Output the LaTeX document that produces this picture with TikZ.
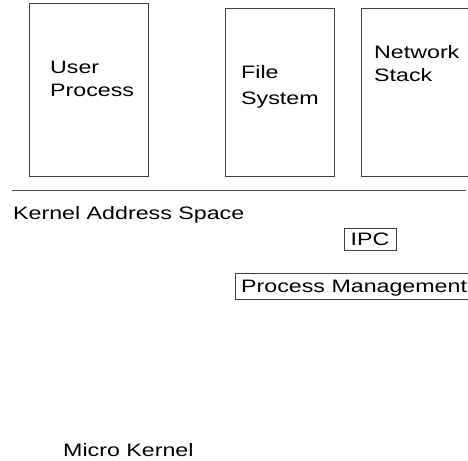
\documentclass[tikz,border=0pt]{standalone}
\usepackage{fontspec}
\setmainfont{Liberation Sans}[FakeStretch=1.29]

\begin{document}
\begin{tikzpicture}[x=1pt,y=-1pt,
  frame/.style={draw=black!75, line width=0.8pt, inner sep=0pt, outer sep=0pt},
  lbl/.style={inner sep=0pt, anchor=north west, align=left,
    font=\fontsize{18}{23}\selectfont},
  tag/.style={frame, font=\fontsize{18}{23}\selectfont},
  rule/.style={draw=black!70, line width=0.8pt}]
\useasboundingbox (0,0) rectangle (468,460);

% user-space servers
\node[frame, minimum width=119pt, minimum height=173pt] (user) at (88.5,89.5) {};
\node[frame, minimum width=109pt, minimum height=168pt] (fs) at (279.5,92) {};
\node[frame, minimum width=119pt, minimum height=168pt] (net) at (420.5,92) {};

\node[lbl] (userlbl) at (50,61) {User\\Process};
\node[lbl, font=\fontsize{18}{26}\selectfont] (fslbl) at (241,65) {File\\System};
\node[lbl] (netlbl) at (374,45) {Network\\Stack};

% user / kernel boundary
\coordinate (bl) at (12,190);
\coordinate (br) at (466,190);
\draw[rule] (bl) -- (br);

\node[lbl] (kas) at (13,206) {Kernel Address Space};

% kernel services
\node[tag, minimum width=52pt, minimum height=22pt] (ipc) at (370,239) {IPC};
\node[tag, minimum width=236pt, minimum height=26pt] (pm) at (353,286) {};
\node[lbl] (pmlbl) at (241,280) {Process Management};

\node[lbl] (mk) at (63,443) {Micro Kernel};
\end{tikzpicture}
\end{document}
